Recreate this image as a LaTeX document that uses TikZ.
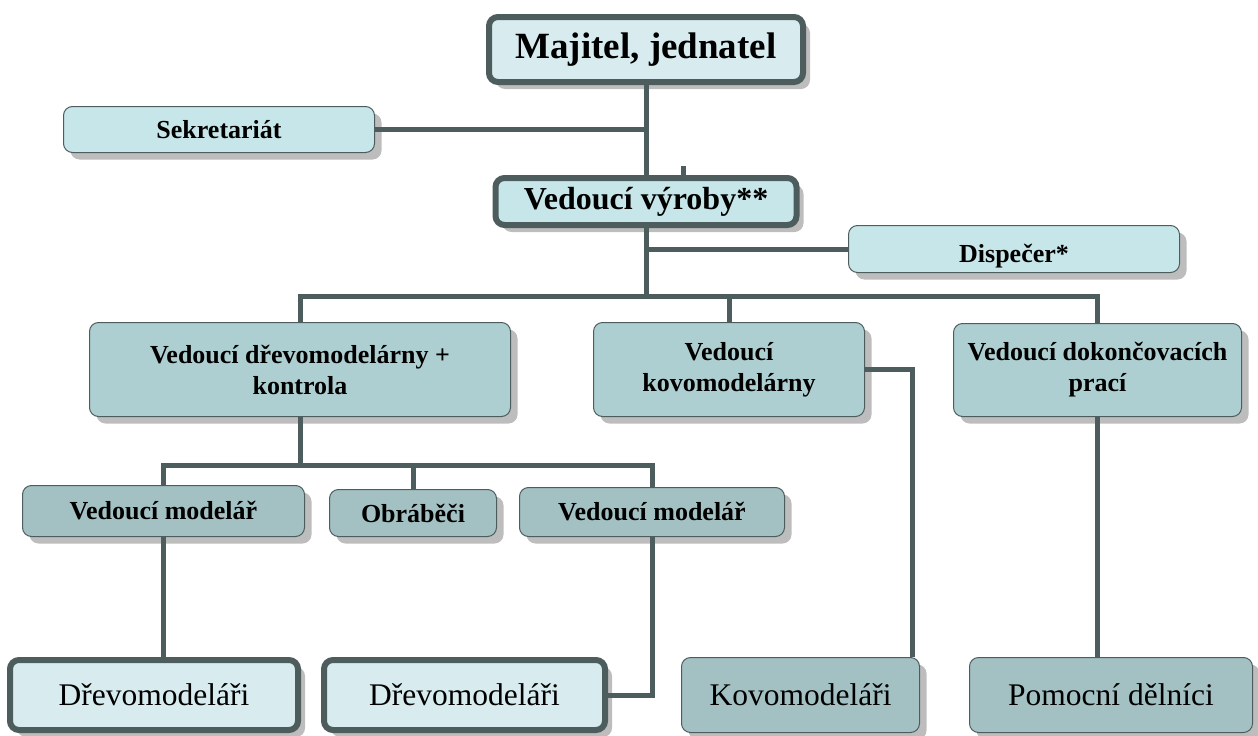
\documentclass[tikz,border=0pt]{standalone}
\usepackage{fontspec}
\setmainfont{Liberation Serif}
\usetikzlibrary{shadows,calc}
\definecolor{ln}{HTML}{4D5D5E}
\definecolor{lightA}{HTML}{D8ECEF}
\definecolor{lightB}{HTML}{C7E6E9}
\definecolor{midC}{HTML}{AECFD1}
\definecolor{darkC}{HTML}{A3C1C3}
\definecolor{shad}{HTML}{BDBDBD}
\begin{document}
\begin{tikzpicture}[x=1pt,y=-1pt,
  box/.style={rounded corners=9pt, draw=ln, line width=1pt, inner sep=0pt, align=center, text=black,
    drop shadow={shadow xshift=7pt, shadow yshift=-7pt, fill=shad, opacity=1}},
  thickbox/.style={box, line width=6pt},
  bsmall/.style={font=\bfseries\fontsize{26}{31}\selectfont},
  reg/.style={font=\fontsize{31.5}{34}\selectfont},
  conn/.style={draw=ln, line width=5pt}]
\useasboundingbox (0,0) rectangle (1258,736);

% boxes
\node[thickbox, fill=lightA, minimum width=314pt, minimum height=65pt, font=\bfseries\fontsize{37}{40}\selectfont] (maj) at (646,49.5) {Majitel, jednatel};
\node[box, fill=lightB, minimum width=311pt, minimum height=46pt, bsmall] (sek) at (219,129.5) {Sekretariát};
\node[thickbox, fill=lightB, minimum width=301pt, minimum height=47pt, font=\bfseries\fontsize{32}{36}\selectfont] (vyr) at (646,201.5) {Vedoucí výroby**};
\node[box, fill=lightB, minimum width=331pt, minimum height=47pt, bsmall, text height=26pt, text depth=0pt] (dis) at (1014,249) {Dispečer*};

\node[box, fill=midC, minimum width=421pt, minimum height=94pt, bsmall] (dre) at (300,369.5) {Vedoucí dřevomodelárny +\\kontrola};
\node[box, fill=midC, minimum width=271pt, minimum height=94pt, bsmall] (kov) at (729,369.5) {Vedoucí\\kovomodelárny};
\node[box, fill=midC, minimum width=288pt, minimum height=93pt, bsmall] (dok) at (1097.5,370) {Vedoucí dokončovacích\\prací};

\node[box, fill=darkC, minimum width=282pt, minimum height=51pt, bsmall] (vm1) at (163.5,511) {Vedoucí modelář};
\node[box, fill=darkC, minimum width=167pt, minimum height=47pt, bsmall] (obr) at (413,513) {Obráběči};
\node[box, fill=darkC, minimum width=265pt, minimum height=49pt, bsmall] (vm2) at (652,512) {Vedoucí modelář};

\node[thickbox, fill=lightA, minimum width=288pt, minimum height=70pt, reg] (d1) at (154,695) {Dřevomodeláři};
\node[thickbox, fill=lightA, minimum width=281pt, minimum height=70pt, reg] (d2) at (464.5,695) {Dřevomodeláři};
\node[box, fill=darkC, minimum width=238pt, minimum height=75pt, reg] (kvm) at (800.5,695) {Kovomodeláři};
\node[box, fill=darkC, minimum width=283pt, minimum height=75pt, reg] (pom) at (1111,695) {Pomocní dělníci};

% helper coordinates
\coordinate (bus1) at (646,296);
\coordinate (bus2) at (300,465);
\coordinate (stub) at (683,166);
\coordinate (kdrop) at (912,369.5);

% connectors
\draw[conn] (maj.south) -- (vyr.north);
\draw[conn] (sek.east) -- (sek.east -| maj.south);
\draw[conn] (stub) -- (stub |- vyr.north);
\draw[conn] (vyr.south) -- (bus1);
\draw[conn] (vyr.south |- dis.west) -- (dis.west);
\draw[conn] (dre.north) |- (bus1) -| (dok.north);
\draw[conn] (kov.north) -- (kov.north |- bus1);
\draw[conn] (dre.south) -- (bus2);
\draw[conn] (vm1.north) |- (bus2) -| (vm2.north);
\draw[conn] (obr.north) -- (obr.north |- bus2);
\draw[conn] (vm1.south) -- (vm1.south |- d1.north);
\draw[conn] (vm2.south) |- (d2.east);
\draw[conn] (kov.east) -- (kdrop) -- (kdrop |- kvm.north);
\draw[conn] (dok.south) -- (dok.south |- pom.north);
\end{tikzpicture}
\end{document}
